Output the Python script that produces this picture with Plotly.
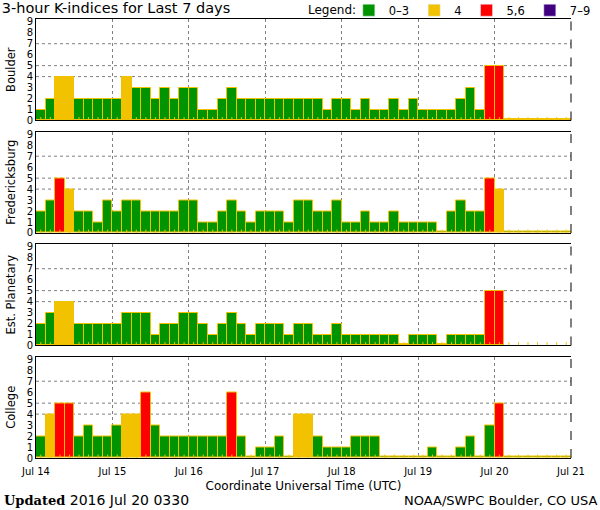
import plotly.graph_objects as go
from plotly.subplots import make_subplots
import pandas as pd

# ---------------- data ----------------
STATIONS = ["Boulder", "Fredericksburg", "Est. Planetary", "College"]

boulder = [1, 2, 4, 4, 2, 2, 2, 2,
           2, 4, 3, 3, 2, 3, 2, 3,
           3, 1, 1, 2, 3, 2, 2, 2,
           2, 2, 2, 2, 2, 2, 1, 2,
           2, 1, 2, 1, 1, 2, 1, 2,
           1, 1, 1, 1, 2, 3, 1, 5,
           5, 0, 0, 0, 0, 0, 0, 0]

fredericksburg = [2, 3, 5, 4, 2, 2, 1, 3,
                  2, 3, 3, 2, 2, 2, 2, 3,
                  3, 1, 1, 2, 3, 2, 1, 2,
                  2, 2, 1, 3, 3, 2, 2, 3,
                  1, 1, 2, 1, 1, 2, 1, 1,
                  1, 1, 0, 2, 3, 2, 2, 5,
                  4, 0, 0, 0, 0, 0, 0, 0]

planetary = [2, 3, 4, 4, 2, 2, 2, 2,
             2, 3, 3, 3, 1, 2, 2, 3,
             3, 2, 1, 2, 3, 2, 1, 2,
             2, 2, 1, 2, 2, 1, 1, 2,
             1, 1, 1, 1, 1, 1, 0, 1,
             1, 1, 0, 1, 1, 1, 1, 5,
             5, None, None, None, None, None, None, None]

college = [2, 4, 5, 5, 2, 3, 2, 2,
           3, 4, 4, 6, 3, 2, 2, 2,
           2, 2, 2, 2, 6, 2, 0, 1,
           1, 2, 0, 4, 4, 2, 1, 1,
           1, 2, 2, 2, 0, 0, 0, 0,
           0, 1, 0, 0, 1, 2, 0, 3,
           5, 0, 0, 0, 0, 0, 0, 0]

SERIES = [boulder, fredericksburg, planetary, college]

START = "2016-07-14"
END = "2016-07-21"
SLOT_HOURS = 3
N_SLOTS = 56

LEGEND_LABELS = ["0\u20133", "4", "5,6", "7\u20139"]
LEGEND_COLORS = ["#009400", "#F2C200", "#FF0000", "#400080"]
THRESHOLDS = [4, 5, 7]
YTICKS = list(range(10))

OUTLINE = "#F2C200"
ZERO_HEIGHT = 0.18  # zero values drawn as a thin sliver, as in the original


def color_for(v):
    if v is None or v <= 3:
        return LEGEND_COLORS[0]
    if v == 4:
        return LEGEND_COLORS[1]
    if v <= 6:
        return LEGEND_COLORS[2]
    return LEGEND_COLORS[3]


slot_ms = SLOT_HOURS * 3600 * 1000
x = pd.date_range(pd.Timestamp(START) + pd.Timedelta(hours=SLOT_HOURS / 2),
                  periods=N_SLOTS, freq=f"{SLOT_HOURS}h")

fig = make_subplots(rows=4, cols=1, shared_xaxes=True, vertical_spacing=0.0251)

for r, (name, vals) in enumerate(zip(STATIONS, SERIES), start=1):
    disp = [None if v is None else (ZERO_HEIGHT if v == 0 else v) for v in vals]
    fig.add_trace(go.Bar(
        x=x, y=disp, width=slot_ms,
        marker=dict(color=[color_for(v) for v in vals],
                    line=dict(color=OUTLINE, width=1)),
        customdata=vals, hovertemplate="%{x}<br>K=%{customdata}<extra>" + name + "</extra>",
        showlegend=False,
    ), row=r, col=1)
    # small slot marks at the base
    fig.add_trace(go.Scatter(
        x=x, y=[0.12] * N_SLOTS, mode="markers",
        marker=dict(symbol="line-ns", size=3, line=dict(color=OUTLINE, width=1)),
        hoverinfo="skip", showlegend=False,
    ), row=r, col=1)
    for lvl in THRESHOLDS:
        fig.add_hline(y=lvl, row=r, col=1,
                      line=dict(color="#808080", width=1, dash="dot"), layer="below")
    sfx = str(r) if r > 1 else ""
    fig.add_shape(type="line", xref=f"x{sfx} domain", yref=f"y{sfx} domain",
                  x0=1, x1=1, y0=0, y1=1,
                  line=dict(color="black", width=1, dash="dash"))

# legend-only entries
for lab, col in zip(LEGEND_LABELS, LEGEND_COLORS):
    fig.add_trace(go.Bar(x=[None], y=[None], name=lab, marker=dict(color=col),
                         showlegend=True), row=1, col=1)

font_main = "DejaVu Sans"

for r in range(1, 5):
    fig.update_xaxes(
        type="date", range=[START, END], dtick=86400000, tickformat="%b %d",
        showgrid=True, gridcolor="#808080", griddash="dot", gridwidth=1,
        showline=True, linecolor="black", linewidth=1, mirror=True,
        ticks="", layer="above traces", automargin=False,
        showticklabels=(r == 4),
        tickfont=dict(family=font_main, size=10, color="black"),
        row=r, col=1)
    fig.update_yaxes(
        range=[0, 9.25], tickvals=YTICKS, showgrid=False, zeroline=False,
        showline=True, linecolor="black", linewidth=1, ticks="", automargin=False,
        tickfont=dict(family=font_main, size=10, color="black"),
        title=dict(text=STATIONS[r - 1], font=dict(family=font_main, size=11.5, color="black"),
                   standoff=8),
        row=r, col=1)

fig.update_xaxes(ticklabelstandoff=4,
                 title=dict(text="Coordinate Universal Time (UTC)",
                            font=dict(family=font_main, size=12, color="black"),
                            standoff=5), row=4, col=1)

fig.update_layout(
    width=600, height=510,
    margin=dict(l=36, r=29, t=19, b=52, autoexpand=False),
    paper_bgcolor="white", plot_bgcolor="white",
    barmode="overlay", bargap=0,
    font=dict(family=font_main, color="black"),
    title=dict(text="3-hour K-indices for Last 7 days", x=0.003, xanchor="left",
               y=0.9845, yanchor="middle",
               font=dict(family=font_main, size=14.5, color="black")),
    legend=dict(orientation="h", xref="container", yref="container",
                x=0.993, xanchor="right", y=0.98, yanchor="middle",
                font=dict(family=font_main, size=11.5, color="black"),
                bgcolor="rgba(0,0,0,0)", itemwidth=30, tracegroupgap=0),
    annotations=[
        dict(text="Legend:", xref="paper", yref="paper", x=0.602, y=1.0205,
             xanchor="right", yanchor="middle", showarrow=False,
             font=dict(family=font_main, size=12, color="black")),
        dict(text="<span style='font-family:DejaVu Serif;font-size:13px'><b>Updated</b></span> 2016 Jul 20 0330",
             xref="paper", yref="paper", x=-0.0636, y=-0.0957, xanchor="left", yanchor="middle",
             showarrow=False, font=dict(family=font_main, size=14, color="black")),
        dict(text="NOAA/SWPC Boulder, CO USA",
             xref="paper", yref="paper", x=1.052, y=-0.0957, xanchor="right", yanchor="middle",
             showarrow=False, font=dict(family=font_main, size=13, color="black")),
    ],
)

fig.write_html("out.html",
               config={"displayModeBar": False},
               post_script="document.body.style.margin='0';document.body.style.padding='0';")
